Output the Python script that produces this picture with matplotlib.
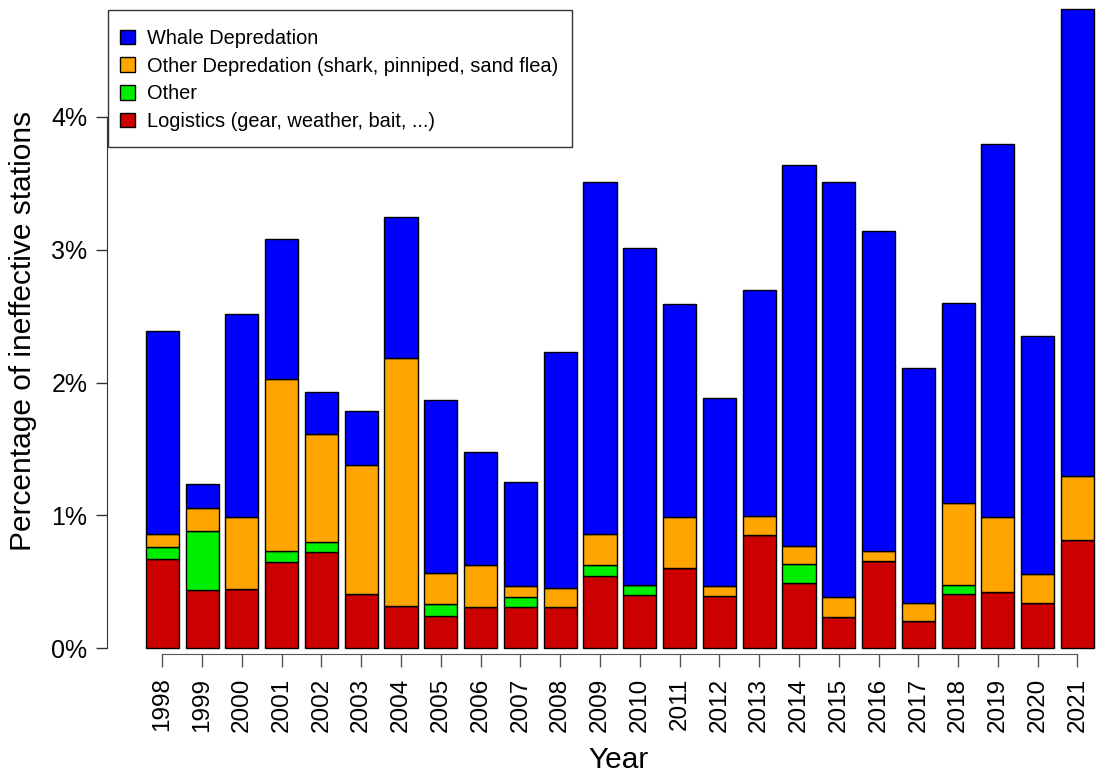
import matplotlib
matplotlib.use("Agg")
import matplotlib.pyplot as plt
from matplotlib.patches import Rectangle
import numpy as np

plt.rcParams['font.family'] = ['Liberation Sans', 'DejaVu Sans']

years = [str(y) for y in range(1998, 2022)]
logistics = [0.673, 0.437, 0.447, 0.645, 0.721, 0.409, 0.319, 0.243, 0.309, 0.309, 0.309, 0.542,
             0.397, 0.605, 0.389, 0.851, 0.490, 0.231, 0.655, 0.203, 0.407, 0.422, 0.341, 0.811]
other = [0.090, 0.442, 0.0, 0.086, 0.077, 0.0, 0.0, 0.086, 0.0, 0.078, 0.0, 0.083,
         0.080, 0.0, 0.0, 0.0, 0.145, 0.0, 0.0, 0.0, 0.070, 0.0, 0.0, 0.0]
other_dep = [0.096, 0.176, 0.540, 1.295, 0.814, 0.969, 1.866, 0.236, 0.314, 0.078, 0.145, 0.234,
             0.0, 0.382, 0.076, 0.143, 0.136, 0.156, 0.076, 0.138, 0.618, 0.565, 0.214, 0.487]
whale = [1.531, 0.178, 1.531, 1.053, 0.318, 0.407, 1.059, 1.306, 0.856, 0.788, 1.778, 2.654,
         2.534, 1.602, 1.416, 1.703, 2.870, 3.123, 2.408, 1.768, 1.506, 2.807, 1.798, 3.512]

labels = ["Whale Depredation", "Other Depredation (shark, pinniped, sand flea)",
          "Other", "Logistics (gear, weather, bait, ...)"]
colors = ["#0000FF", "#FFA500", "#00EE00", "#CD0000"]
yticks = [0, 1, 2, 3, 4]
ytick_labels = ["0%", "1%", "2%", "3%", "4%"]

W, H = 1096, 773
fig = plt.figure(figsize=(W / 100, H / 100), dpi=100)

# axes in pixel geometry
left_px, right_px, top_px, bottom_px = 107, 1096, 0, 654
ax = fig.add_axes([left_px / W, (H - bottom_px) / H, (right_px - left_px) / W, (bottom_px - top_px) / H])

px_per_unit = 132.75
zero_px = 648
ax.set_ylim(-(bottom_px - zero_px) / px_per_unit, (zero_px - top_px) / px_per_unit)

x = np.arange(len(years))
spacing = 39.79
c0 = 162.3
ax.set_xlim(-(c0 - left_px) / spacing, (right_px - c0) / spacing)

width = 0.833
series = [logistics, other, other_dep, whale]
ser_colors = [colors[3], colors[2], colors[1], colors[0]]
ser_labels = [labels[3], labels[2], labels[1], labels[0]]
bottom = np.zeros(len(years))
handles = []
for vals, col, lab in zip(series, ser_colors, ser_labels):
    b = ax.bar(x, vals, width=width, bottom=bottom, color=col, edgecolor="black",
               linewidth=1.0, label=lab, zorder=2)
    handles.append(b)
    bottom = bottom + np.array(vals)

for s in ["top", "right"]:
    ax.spines[s].set_visible(False)
ax.spines["left"].set_bounds(0, 4)
ax.spines["bottom"].set_bounds(0, len(years) - 1)
ax.spines["left"].set_color("#333333")
ax.spines["bottom"].set_color("#555555")

ax.set_yticks(yticks)
ax.set_yticklabels(ytick_labels)
ax.set_xticks(x)
ax.set_xticklabels(years, rotation=90)
ax.tick_params(axis="y", length=8, width=1, labelsize=18, pad=6, colors="#333333", labelcolor="black")
ax.tick_params(axis="x", length=9, width=1, labelsize=17.5, pad=8, colors="#555555", labelcolor="black")

fig.text(23 / W, 1 - 331 / H, "Percentage of ineffective stations", rotation=90,
         ha="center", va="center", fontsize=21.5)
fig.text(619 / W, 1 - 768 / H, "Year", ha="center", va="baseline", fontsize=21.5)

# legend frame drawn as a rectangle, legend content without frame
frame = Rectangle((108 / W, 1 - 147 / H), (572 - 108) / W, (147 - 10) / H,
                  transform=fig.transFigure, facecolor="white", edgecolor="#333333",
                  linewidth=1.0, zorder=3, clip_on=False)
ax.add_patch(frame)

leg = ax.legend(handles=handles[::-1], labels=labels, loc="upper left",
                bbox_to_anchor=(120 / W, 1 - 29 / H), bbox_transform=fig.transFigure,
                fontsize=14.4, frameon=False,
                handlelength=0.75, handleheight=0.75, handletextpad=0.6,
                labelspacing=0.435, borderpad=0, borderaxespad=0)
leg.set_zorder(5)

fig.savefig("out.png", dpi=100)
